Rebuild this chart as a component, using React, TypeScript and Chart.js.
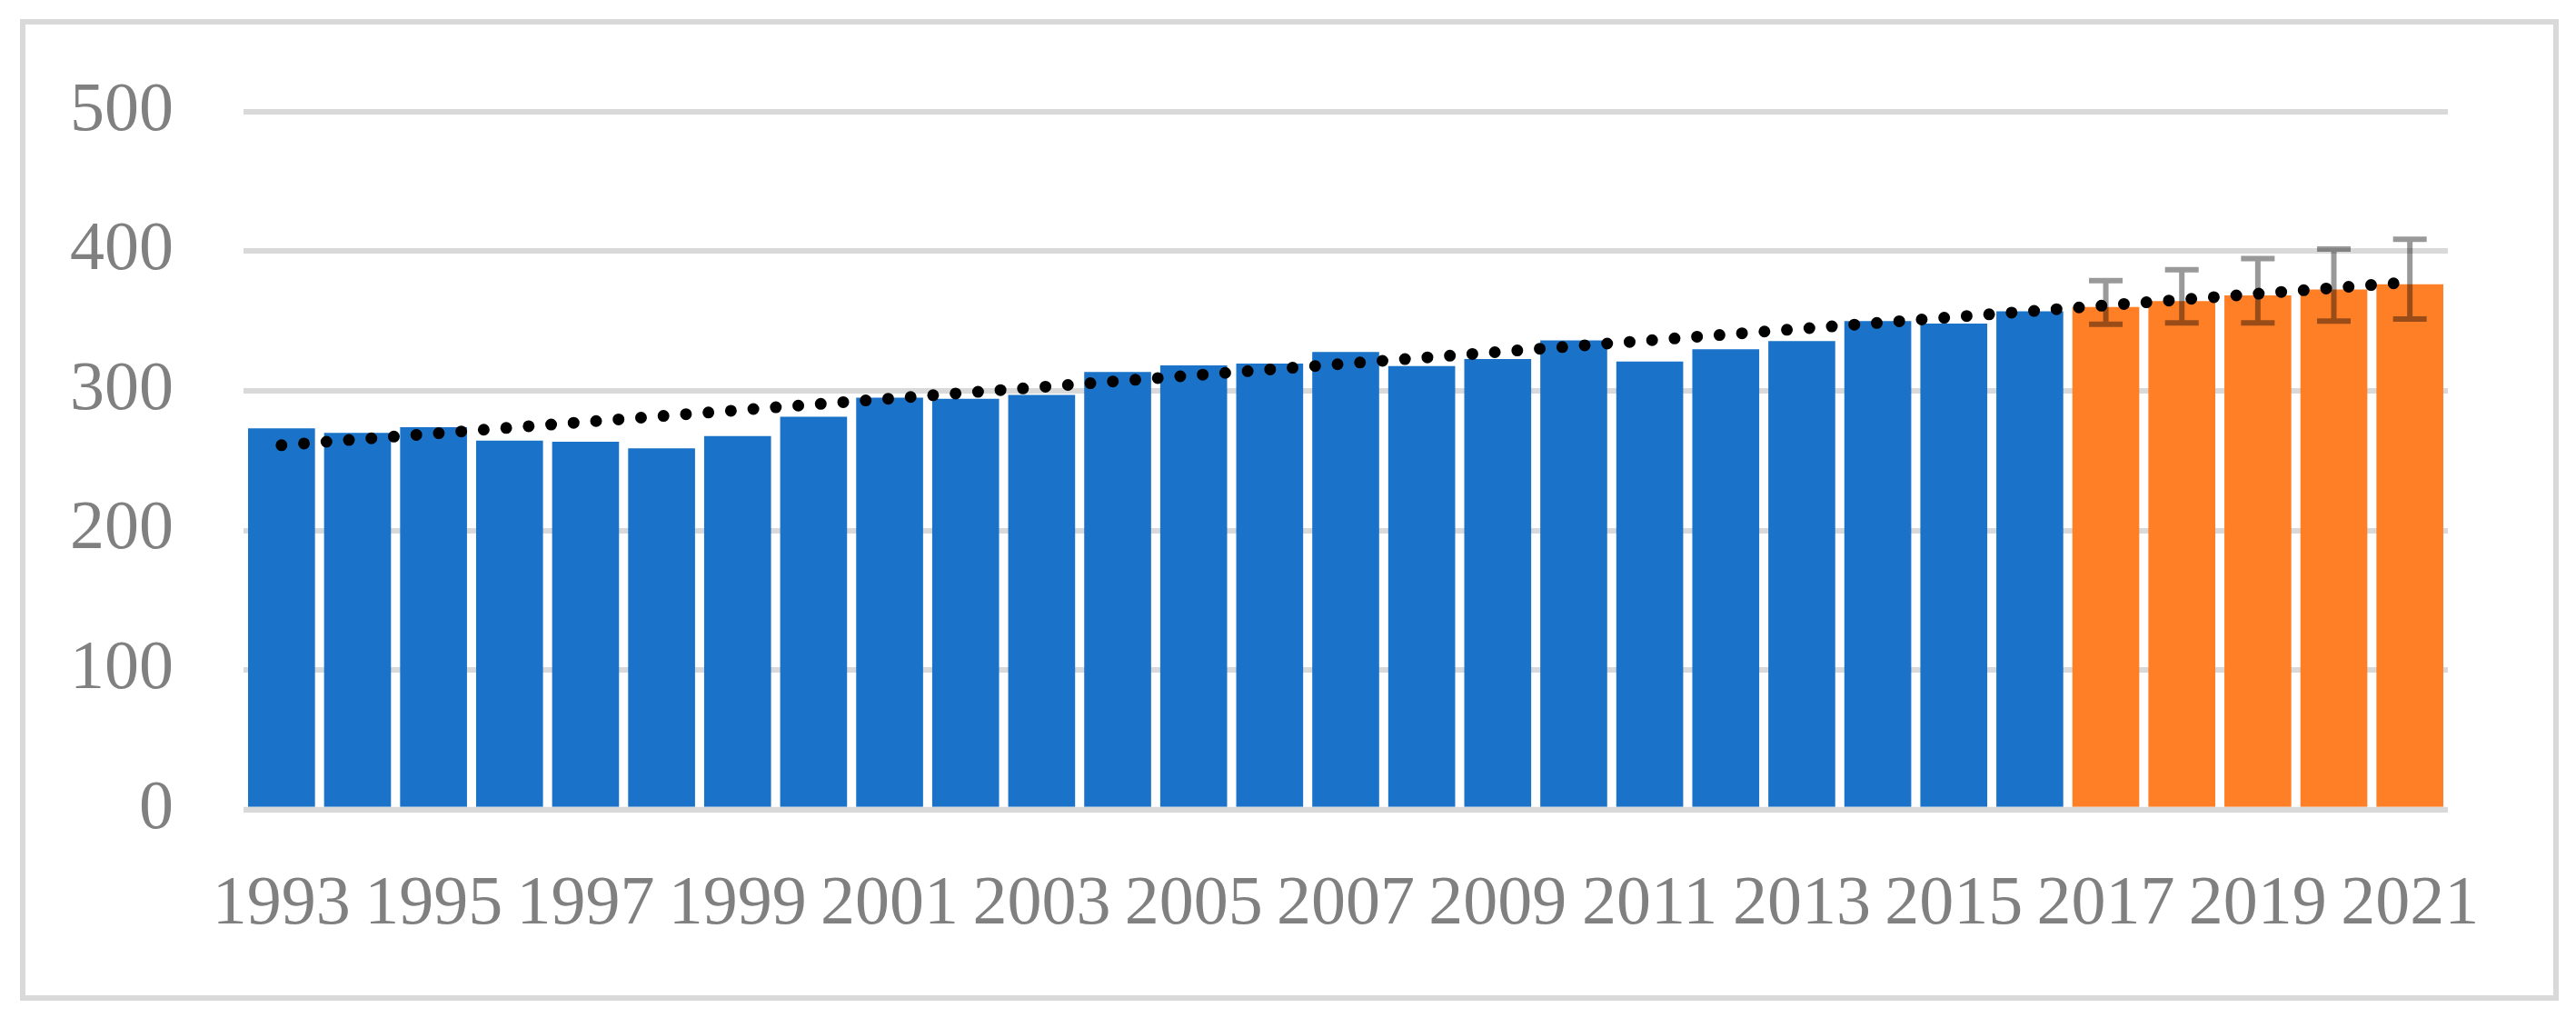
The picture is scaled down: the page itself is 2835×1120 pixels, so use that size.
import React, { useEffect, useRef } from 'react';
import { Chart, registerables } from 'chart.js';

Chart.register(...registerables);

// ---- Data ----
const observedYears = [
  '1993', '1994', '1995', '1996', '1997', '1998', '1999', '2000', '2001', '2002', '2003', '2004',
  '2005', '2006', '2007', '2008', '2009', '2010', '2011', '2012', '2013', '2014', '2015', '2016',
];
const forecastYears = ['2017', '2018', '2019', '2020', '2021'];

const observedValues = [
  273.0, 269.8, 273.9, 264.3, 263.4, 258.8, 267.5, 281.3, 295.1, 294.2, 297.0, 313.5,
  318.1, 319.5, 327.8, 317.7, 322.7, 336.1, 320.9, 329.7, 335.6, 349.9, 348.1, 356.8,
];
const forecastValues = [360.0, 364.2, 368.3, 372.5, 376.2];
const forecastLower = [347.6, 348.5, 348.5, 349.9, 351.3];
const forecastUpper = [378.9, 386.7, 394.6, 401.5, 408.4];

// Linear trend line end points (first and last year)
const trendStart = 261.0;
const trendEnd = 377.8;

const yMin = 0;
const yMax = 500;
const yStep = 100;

const categories = observedYears.concat(forecastYears);

const BLUE = '#1a73c8';
const ORANGE = '#ff7f27';
const GRID = '#d9d9d9';
const TEXT = '#808080';
const FONT = "'Liberation Serif', 'Times New Roman', serif";

export default function App() {
  const ref = useRef<HTMLCanvasElement>(null);

  useEffect(() => {
    const canvas = ref.current;
    if (!canvas) return;
    const n = categories.length;
    const nObs = observedValues.length;
    const obsData = categories.map((_, i) => (i < nObs ? observedValues[i] : null));
    const fcData = categories.map((_, i) => (i >= nObs ? forecastValues[i - nObs] : null));
    const trendData = categories.map((_, i) => (i === 0 ? trendStart : i === n - 1 ? trendEnd : null));

    const framePlugin = {
      id: 'frame',
      beforeDraw(chart: any) {
        const ctx = chart.ctx;
        ctx.save();
        ctx.fillStyle = '#ffffff';
        ctx.fillRect(0, 0, chart.width, chart.height);
        ctx.strokeStyle = GRID;
        ctx.lineWidth = 6;
        ctx.strokeRect(25, 24, 2813 - 25, 1098 - 24);
        ctx.restore();
      },
      afterDatasetsDraw(chart: any) {
        const ctx = chart.ctx;
        const xs = chart.scales.x;
        const ys = chart.scales.y;
        ctx.save();
        // baseline axis line over bar bottoms
        const y0 = ys.getPixelForValue(0);
        ctx.strokeStyle = GRID;
        ctx.lineWidth = 6;
        ctx.beginPath();
        ctx.moveTo(chart.chartArea.left, y0);
        ctx.lineTo(chart.chartArea.right, y0);
        ctx.stroke();
        // error bars
        ctx.strokeStyle = 'rgba(0,0,0,0.4)';
        ctx.lineWidth = 6;
        const half = 18.5;
        for (let i = 0; i < forecastValues.length; i++) {
          const x = xs.getPixelForValue(nObs + i);
          const yt = ys.getPixelForValue(forecastUpper[i]);
          const yb = ys.getPixelForValue(forecastLower[i]);
          ctx.beginPath();
          ctx.moveTo(x, yt);
          ctx.lineTo(x, yb);
          ctx.moveTo(x - half, yt);
          ctx.lineTo(x + half, yt);
          ctx.moveTo(x - half, yb);
          ctx.lineTo(x + half, yb);
          ctx.stroke();
        }
        ctx.restore();
      },
    };

    const chart = new Chart(canvas, {
      type: 'bar',
      data: {
        labels: categories,
        datasets: [
          {
            type: 'line',
            label: 'Trend',
            data: trendData,
            borderColor: '#000000',
            borderWidth: 13,
            borderDash: [0, 24.8],
            borderCapStyle: 'round',
            pointRadius: 0,
            spanGaps: true,
            fill: false,
            order: 0,
          } as any,
          {
            type: 'bar',
            label: 'Observed',
            data: obsData,
            backgroundColor: BLUE,
            borderWidth: 0,
            barPercentage: 0.88,
            categoryPercentage: 1,
            grouped: false,
            order: 1,
          } as any,
          {
            type: 'bar',
            label: 'Forecast',
            data: fcData,
            backgroundColor: ORANGE,
            borderWidth: 0,
            barPercentage: 0.88,
            categoryPercentage: 1,
            grouped: false,
            order: 1,
          } as any,
        ],
      },
      options: {
        responsive: false,
        animation: false,
        events: [],
        layout: { padding: { left: 0, right: 141, top: 115, bottom: 18 } },
        plugins: {
          legend: { display: false },
          tooltip: { enabled: false },
          title: { display: false },
        },
        scales: {
          x: {
            type: 'category',
            offset: true,
            grid: { display: false, drawTicks: false },
            border: { display: false },
            ticks: {
              autoSkip: false,
              maxRotation: 0,
              minRotation: 0,
              padding: 60,
              color: TEXT,
              font: { family: FONT, size: 76 },
              callback: (_v: any, i: number) => (i % 2 === 0 ? categories[i] : ''),
            },
          },
          y: {
            min: yMin,
            max: yMax,
            grid: { color: GRID, lineWidth: 6, drawTicks: false },
            border: { display: false },
            ticks: {
              stepSize: yStep,
              padding: 77,
              color: TEXT,
              font: { family: FONT, size: 76 },
            },
          },
        },
      } as any,
      plugins: [framePlugin],
    });

    return () => chart.destroy();
  }, []);

  return (
    <div style={{ position: 'fixed', left: 0, top: 0, width: 2835, height: 1120, background: '#ffffff' }}>
      <canvas ref={ref} width={2835} height={1120} style={{ display: 'block', width: 2835, height: 1120 }} />
    </div>
  );
}
